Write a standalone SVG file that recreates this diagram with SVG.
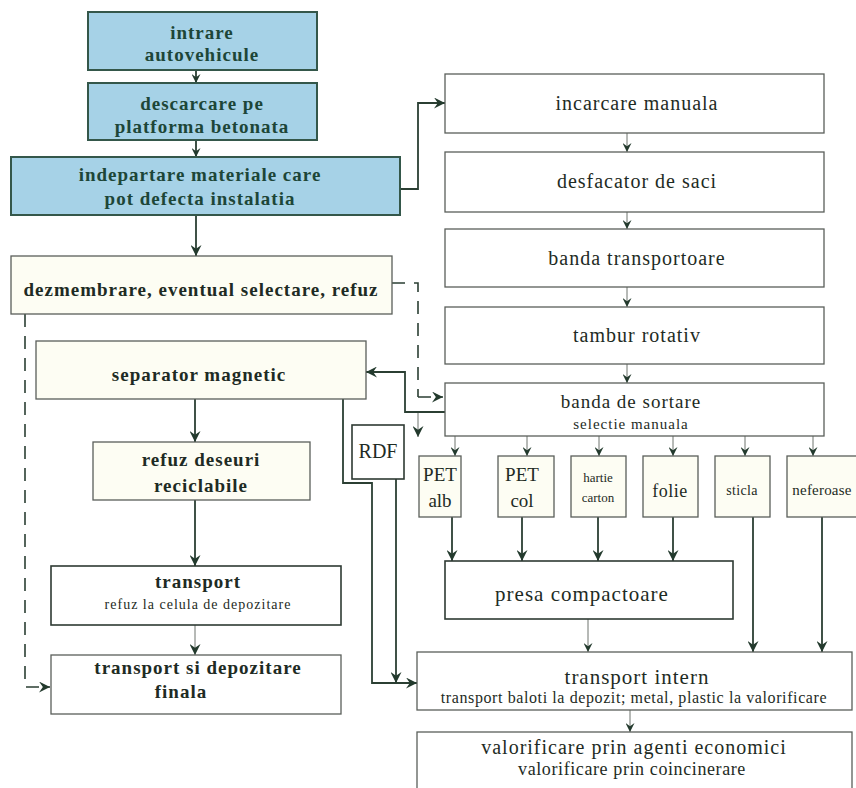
<svg xmlns="http://www.w3.org/2000/svg" width="856" height="788" viewBox="0 0 856 788" font-family="'Liberation Serif', 'DejaVu Serif', 'Times New Roman', serif">
  <style>
    text { font-family: "Liberation Serif", "DejaVu Serif", "Times New Roman", serif; fill: #1e2b24; text-anchor: middle; letter-spacing: 1px; }
    .b { font-weight: bold; }
    .blue rect { fill: #a6d2e7; stroke: #34574a; stroke-width: 2; }
    .blue text { fill: #1d4638; font-size: 19px; }
    .box rect { fill: #ffffff; stroke: #5a5f5a; stroke-width: 1.3; }
    .dark rect { stroke: #2e3a33; stroke-width: 1.6; }
    .pale rect { fill: #fdfdf3; }
    .xl { font-size: 20px; }
    .l { font-size: 19px; }
    .s { font-size: 14px; }
    .conn path, .conn line { fill: none; stroke: #2b3f33; stroke-width: 1.8; }
    .conn .thin { stroke: #6f756f; stroke-width: 1; }
    .conn .dash { stroke-dasharray: 13 9; stroke-width: 1.6; }
  </style>
  <defs>
    <marker id="ah" viewBox="0 0 10 10" refX="10" refY="5" markerWidth="11" markerHeight="11" markerUnits="userSpaceOnUse" orient="auto">
      <path d="M0,0 L10,5 L0,10 L3.5,5 Z" fill="#233a2d"/>
    </marker>
    <marker id="ahs" viewBox="0 0 10 10" refX="10" refY="5" markerWidth="9" markerHeight="9" markerUnits="userSpaceOnUse" orient="auto">
      <path d="M0,0 L10,5 L0,10 L3.5,5 Z" fill="#233a2d"/>
    </marker>
  </defs>
  <rect width="856" height="788" fill="#ffffff"/>

  <!-- connectors -->
  <g id="connectors" class="conn">
    <line x1="196" y1="70" x2="196" y2="83" marker-end="url(#ahs)"/>
    <line x1="196" y1="140" x2="196" y2="157" marker-end="url(#ahs)"/>
    <line x1="196" y1="215" x2="196" y2="256" marker-end="url(#ah)"/>
    <path d="M400,189 H418 V103 H445" marker-end="url(#ah)"/>
    <line class="thin" x1="627" y1="133" x2="627" y2="152" marker-end="url(#ahs)"/>
    <line class="thin" x1="627" y1="212" x2="627" y2="229" marker-end="url(#ahs)"/>
    <line class="thin" x1="627" y1="287" x2="627" y2="307" marker-end="url(#ahs)"/>
    <line class="thin" x1="627" y1="364" x2="627" y2="383" marker-end="url(#ahs)"/>
    <path class="dash" d="M392,283 H418 V397"/>
    <path class="dash" d="M418,397 H443" marker-end="url(#ah)"/>
    <line class="thin" x1="418" y1="412" x2="418" y2="437" marker-end="url(#ah)"/>
    <path d="M445,412 H405 V372 H366" marker-end="url(#ah)"/>
    <path class="dash" d="M25,314 V687 H50" marker-end="url(#ah)"/>
    <line x1="195" y1="399" x2="195" y2="442" marker-end="url(#ah)"/>
    <line x1="195" y1="500" x2="195" y2="566" marker-end="url(#ah)"/>
    <line class="thin" x1="195" y1="625" x2="195" y2="655" marker-end="url(#ah)"/>
    <path d="M343,399 V483 H372 V683 H417" marker-end="url(#ah)"/>
    <line x1="396" y1="479" x2="396" y2="683" marker-end="url(#ah)"/>
    <line class="thin" x1="455" y1="436" x2="455" y2="456" marker-end="url(#ahs)"/>
    <line class="thin" x1="527" y1="436" x2="527" y2="456" marker-end="url(#ahs)"/>
    <line class="thin" x1="599" y1="436" x2="599" y2="456" marker-end="url(#ahs)"/>
    <line class="thin" x1="673" y1="436" x2="673" y2="456" marker-end="url(#ahs)"/>
    <line class="thin" x1="745" y1="436" x2="745" y2="456" marker-end="url(#ahs)"/>
    <line class="thin" x1="813" y1="436" x2="813" y2="456" marker-end="url(#ahs)"/>
    <line x1="452" y1="517" x2="452" y2="561" marker-end="url(#ah)"/>
    <line x1="522" y1="517" x2="522" y2="561" marker-end="url(#ah)"/>
    <line x1="598" y1="517" x2="598" y2="561" marker-end="url(#ah)"/>
    <line x1="673" y1="517" x2="673" y2="561" marker-end="url(#ah)"/>
    <line x1="753" y1="517" x2="753" y2="652" marker-end="url(#ah)"/>
    <line x1="822" y1="517" x2="822" y2="652" marker-end="url(#ah)"/>
    <line class="thin" x1="588" y1="619" x2="588" y2="652" marker-end="url(#ahs)"/>
    <line class="thin" x1="630" y1="710" x2="630" y2="732" marker-end="url(#ahs)"/>
  </g>

  <!-- intake line (blue) -->
  <g id="intrare" class="blue">
    <rect x="88" y="12" width="229" height="58"/>
    <text class="b" x="202" y="39">intrare</text>
    <text class="b" x="202" y="61">autovehicule</text>
  </g>
  <g id="descarcare" class="blue">
    <rect x="88" y="83" width="229" height="57"/>
    <text class="b" x="202" y="110">descarcare pe</text>
    <text class="b" x="202" y="133">platforma betonata</text>
  </g>
  <g id="indepartare" class="blue">
    <rect x="11" y="157" width="389" height="58"/>
    <text class="b" x="200" y="181">indepartare materiale care</text>
    <text class="b" x="200" y="205">pot defecta instalatia</text>
  </g>

  <!-- left column -->
  <g id="dezmembrare" class="box pale">
    <rect x="11" y="256" width="381" height="58"/>
    <text class="b l" x="201" y="296">dezmembrare, eventual selectare, refuz</text>
  </g>
  <g id="separator" class="box pale">
    <rect x="36" y="341" width="330" height="58"/>
    <text class="b l" x="199" y="381">separator magnetic</text>
  </g>
  <g id="refuz" class="box pale">
    <rect x="93" y="442" width="217" height="58"/>
    <text class="b l" x="201" y="466">refuz deseuri</text>
    <text class="b l" x="201" y="492">reciclabile</text>
  </g>
  <g id="transport" class="box dark">
    <rect x="51" y="566" width="290" height="59"/>
    <text class="b l" x="198" y="588">transport</text>
    <text class="s" x="198" y="609">refuz la celula de depozitare</text>
  </g>
  <g id="depozitare" class="box">
    <rect x="51" y="655" width="290" height="59"/>
    <text class="b l" x="198" y="674">transport si depozitare</text>
    <text class="b l" x="181" y="698">finala</text>
  </g>
  <g id="rdf" class="box dark">
    <rect x="352" y="425" width="52" height="54"/>
    <text class="xl" x="378" y="458" style="letter-spacing:0">RDF</text>
  </g>

  <!-- right column -->
  <g id="incarcare" class="box">
    <rect x="445" y="74" width="379" height="59"/>
    <text class="xl" x="637" y="110">incarcare manuala</text>
  </g>
  <g id="desfacator" class="box">
    <rect x="445" y="152" width="379" height="60"/>
    <text class="xl" x="637" y="188">desfacator de saci</text>
  </g>
  <g id="banda-transportoare" class="box">
    <rect x="445" y="229" width="379" height="58"/>
    <text class="xl" x="637" y="265">banda transportoare</text>
  </g>
  <g id="tambur" class="box">
    <rect x="445" y="307" width="379" height="57"/>
    <text class="xl" x="637" y="342">tambur rotativ</text>
  </g>
  <g id="sortare" class="box">
    <rect x="445" y="383" width="379" height="53"/>
    <text class="l" x="631" y="408">banda de sortare</text>
    <text x="631" y="429" style="font-size:15px">selectie manuala</text>
  </g>

  <!-- sorted fractions -->
  <g id="pet-alb" class="box pale">
    <rect x="419" y="456" width="42" height="61"/>
    <text x="440" y="481" style="font-size:19px;letter-spacing:0">PET</text>
    <text x="440" y="507" style="font-size:19px;letter-spacing:0">alb</text>
  </g>
  <g id="pet-col" class="box pale">
    <rect x="498" y="456" width="56" height="61"/>
    <text x="522" y="481" style="font-size:19px;letter-spacing:0">PET</text>
    <text x="522" y="507" style="font-size:19px;letter-spacing:0">col</text>
  </g>
  <g id="hartie" class="box pale">
    <rect x="571" y="456" width="55" height="61"/>
    <text x="598" y="482" style="font-size:13px;letter-spacing:0">hartie</text>
    <text x="598" y="502" style="font-size:13px;letter-spacing:0">carton</text>
  </g>
  <g id="folie" class="box pale">
    <rect x="643" y="456" width="55" height="61"/>
    <text x="670" y="497" style="font-size:18px;letter-spacing:0.5px">folie</text>
  </g>
  <g id="sticla" class="box pale">
    <rect x="715" y="456" width="55" height="61"/>
    <text x="742" y="495" style="font-size:14px;letter-spacing:0.3px">sticla</text>
  </g>
  <g id="neferoase" class="box pale">
    <rect x="787" y="456" width="70" height="61"/>
    <text x="822" y="495" style="font-size:15px;letter-spacing:0.2px">neferoase</text>
  </g>

  <g id="presa" class="box dark">
    <rect x="445" y="561" width="288" height="58"/>
    <text x="582" y="601" style="font-size:21px">presa compactoare</text>
  </g>
  <g id="transport-intern" class="box">
    <rect x="417" y="652" width="435" height="58"/>
    <text x="637" y="684" style="font-size:21px">transport intern</text>
    <text x="634" y="703" style="font-size:16px;letter-spacing:0.6px">transport baloti la depozit; metal, plastic la valorificare</text>
  </g>
  <g id="valorificare" class="box">
    <rect x="417" y="732" width="435" height="60"/>
    <text x="634" y="754" style="font-size:20px">valorificare prin agenti economici</text>
    <text x="632" y="775" style="font-size:18px;letter-spacing:0.6px">valorificare prin coincinerare</text>
  </g>
</svg>
